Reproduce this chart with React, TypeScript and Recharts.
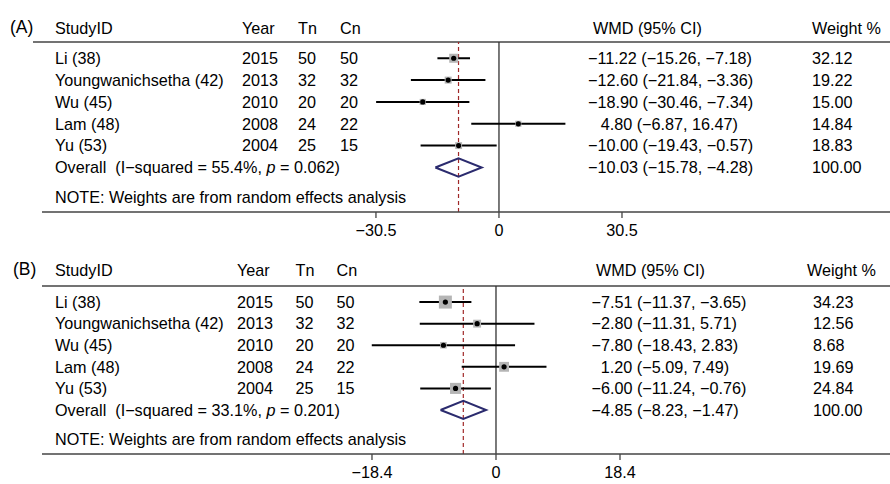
import {
  ComposedChart,
  Scatter,
  ErrorBar,
  XAxis,
  YAxis,
  ReferenceLine,
  Customized,
} from "recharts";

// shared study table
const studies = ["Li (38)", "Youngwanichsetha (42)", "Wu (45)", "Lam (48)", "Yu (53)"];
const years = [2015, 2013, 2010, 2008, 2004];
const tn = [50, 32, 20, 24, 25];
const cn = [50, 32, 20, 22, 15];

// (A)
const wmdA = [-11.22, -12.6, -18.9, 4.8, -10.0];
const lowA = [-15.26, -21.84, -30.46, -6.87, -19.43];
const highA = [-7.18, -3.36, -7.34, 16.47, -0.57];
const weightA = [32.12, 19.22, 15.0, 14.84, 18.83];
const overallA = [-10.03, -15.78, -4.28]; // estimate, lower, upper
const hetA = ["55.4%", "0.062"];
const ticksA = [-30.5, 0, 30.5];

// (B)
const wmdB = [-7.51, -2.8, -7.8, 1.2, -6.0];
const lowB = [-11.37, -11.31, -18.43, -5.09, -11.24];
const highB = [-3.65, 5.71, 2.83, 7.49, -0.76];
const weightB = [34.23, 12.56, 8.68, 19.69, 24.84];
const overallB = [-4.85, -8.23, -1.47];
const hetB = ["33.1%", "0.201"];
const ticksB = [-18.4, 0, 18.4];

const OVERALL_ROW = 6;
const NOTE_ROW = 7.36;
const Y_DOMAIN: [number, number] = [0.255, 8.04];
const FONT = 16.2;
const RULE = "#444";

const minus = (v: number, d: number) =>
  (v < 0 ? "\u2212" : "") + Math.abs(v).toFixed(d);
const ci = (e: number, l: number, h: number) =>
  `${minus(e, 2)} (${minus(l, 2)}, ${minus(h, 2)})`;

type Cols = {
  year: number;
  tn: number;
  cn: number;
  wmd: number;
  wmdHead: number;
  weight: number;
  weightHead: number;
  posIndent: number;
};

type PanelProps = {
  tag: string;
  wmd: number[];
  low: number[];
  high: number[];
  weight: number[];
  overall: number[];
  het: string[];
  ticks: number[];
  xDomain: [number, number];
  cols: Cols;
  boxScale: number;
  headY: number;
  tagY: number;
  tagX: number;
  ruleStart: number;
  height: number;
};

function Panel(p: PanelProps) {
  const points = p.wmd.map((e, i) => ({
    x: e,
    y: i + 1,
    err: [e - p.low[i], p.high[i] - e],
    w: p.weight[i],
  }));
  const [oe, ol, oh] = p.overall;
  const h = 0.42;
  const diamond = [
    { x: ol, y: OVERALL_ROW },
    { x: oe, y: OVERALL_ROW - h },
    { x: oh, y: OVERALL_ROW },
    { x: oe, y: OVERALL_ROW + h },
    { x: ol, y: OVERALL_ROW },
  ];
  const c = p.cols;

  // one y tick draws the whole text row (left table + right columns)
  const renderRow = (props: any) => {
    const v = props.payload.value;
    const y = props.y;
    const t = { fontSize: FONT, fill: "#000", dy: "0.36em" } as const;
    if (v === NOTE_ROW) {
      return (
        <text x={55} y={y} {...t}>
          NOTE: Weights are from random effects analysis
        </text>
      );
    }
    if (v === OVERALL_ROW) {
      return (
        <g>
          <text x={55} y={y} {...t} xmlSpace="preserve">
            {`Overall  (I\u2212squared = ${p.het[0]}, `}
            <tspan fontStyle="italic">p</tspan>
            {` = ${p.het[1]})`}
          </text>
          <text x={c.wmd + (oe >= 0 ? c.posIndent : 0)} y={y} {...t}>
            {ci(oe, ol, oh)}
          </text>
          <text x={c.weight} y={y} {...t}>
            100.00
          </text>
        </g>
      );
    }
    const i = Math.round(v) - 1;
    const e = p.wmd[i];
    return (
      <g>
        <text x={55} y={y} {...t}>{studies[i]}</text>
        <text x={c.year} y={y} {...t}>{years[i]}</text>
        <text x={c.tn} y={y} {...t}>{tn[i]}</text>
        <text x={c.cn} y={y} {...t}>{cn[i]}</text>
        <text x={c.wmd + (e >= 0 ? c.posIndent : 0)} y={y} {...t}>
          {ci(e, p.low[i], p.high[i])}
        </text>
        <text x={c.weight} y={y} {...t}>{p.weight[i].toFixed(2)}</text>
      </g>
    );
  };

  const Header = () => {
    const t = { fontSize: FONT, fill: "#000", dy: "0.36em" } as const;
    return (
      <g>
        <text x={p.tagX} y={p.tagY} fontSize={17.5} fill="#000" dy="0.36em">
          {p.tag}
        </text>
        <text x={55} y={p.headY} {...t}>StudyID</text>
        <text x={c.year} y={p.headY} {...t}>Year</text>
        <text x={c.tn} y={p.headY} {...t}>Tn</text>
        <text x={c.cn} y={p.headY} {...t}>Cn</text>
        <text x={c.wmdHead} y={p.headY} {...t}>WMD (95% CI)</text>
        <text x={c.weightHead} y={p.headY} {...t}>Weight %</text>
      </g>
    );
  };

  const pxPerUnit = 848 / (p.xDomain[1] - p.xDomain[0]);
  const ruleFrom = p.xDomain[0] - (42 - p.ruleStart) / pxPerUnit;

  return (
    <ComposedChart
      width={890}
      height={p.height}
      margin={{ top: 42, right: 0, bottom: 0, left: 41 }}
    >
      <XAxis
        type="number"
        dataKey="x"
        domain={p.xDomain}
        allowDataOverflow
        ticks={p.ticks}
        interval={0}
        height={30}
        tickSize={6}
        tickMargin={6}
        axisLine={{ stroke: RULE, strokeWidth: 1.5 }}
        tickLine={{ stroke: RULE, strokeWidth: 1.3 }}
        tick={{ fontSize: FONT, fill: "#000" }}
        tickFormatter={(v: number) => (v < 0 ? "\u2212" + Math.abs(v) : String(v))}
      />
      <YAxis
        type="number"
        dataKey="y"
        domain={Y_DOMAIN}
        allowDataOverflow
        reversed
        width={1}
        ticks={[1, 2, 3, 4, 5, OVERALL_ROW, NOTE_ROW]}
        interval={0}
        axisLine={false}
        tickLine={false}
        tick={renderRow}
      />
      <ReferenceLine
        segment={[
          { x: ruleFrom, y: Y_DOMAIN[0] },
          { x: p.xDomain[1], y: Y_DOMAIN[0] },
        ]}
        ifOverflow="visible"
        stroke={RULE}
        strokeWidth={1.5}
      />
      <ReferenceLine x={0} stroke="#333" strokeWidth={1.3} />
      <ReferenceLine x={oe} stroke="#a02828" strokeWidth={1.2} strokeDasharray="4 3" />
      <Scatter
        data={points}
        isAnimationActive={false}
        shape={(s: any) => {
          const side = p.boxScale * Math.sqrt(s.payload.w);
          return (
            <rect
              x={s.cx - side / 2}
              y={s.cy - side / 2}
              width={side}
              height={side}
              fill="#b5b5b5"
            />
          );
        }}
      />
      <Scatter
        data={points}
        isAnimationActive={false}
        shape={(s: any) => <circle cx={s.cx} cy={s.cy} r={2.6} fill="#000" />}
      >
        <ErrorBar dataKey="err" direction="x" width={0} stroke="#000" strokeWidth={2} />
      </Scatter>
      <Scatter
        data={diamond}
        isAnimationActive={false}
        line={{ stroke: "#2b2b6e", strokeWidth: 2 }}
        lineType="joint"
        shape={() => <g />}
      />
      <Customized component={Header} />
    </ComposedChart>
  );
}

export default function App() {
  return (
    <div
      style={{
        position: "absolute",
        left: 0,
        top: 0,
        width: 890,
        height: 484,
        background: "#fff",
        fontFamily: "'Liberation Sans', Arial, sans-serif",
      }}
    >
      <div style={{ position: "absolute", left: 0, top: 0 }}>
        <Panel
          tag="(A)"
          wmd={wmdA}
          low={lowA}
          high={highA}
          weight={weightA}
          overall={overallA}
          het={hetA}
          ticks={ticksA}
          xDomain={[-113.3, 96.95]}
          cols={{
            year: 242,
            tn: 298,
            cn: 340,
            wmd: 588,
            wmdHead: 593,
            weight: 812,
            weightHead: 812,
            posIndent: 12.7,
          }}
          boxScale={1.59}
          headY={28.3}
          tagX={10}
          tagY={26.5}
          ruleStart={33}
          height={242}
        />
      </div>
      <div style={{ position: "absolute", left: 0, top: 244 }}>
        <Panel
          tag="(B)"
          wmd={wmdB}
          low={lowB}
          high={highB}
          weight={weightB}
          overall={overallB}
          het={hetB}
          ticks={ticksB}
          xDomain={[-67.36, 58.46]}
          cols={{
            year: 237,
            tn: 295.5,
            cn: 336.5,
            wmd: 591.5,
            wmdHead: 596,
            weight: 813,
            weightHead: 807,
            posIndent: 9.3,
          }}
          boxScale={2.22}
          headY={26.5}
          tagX={13}
          tagY={24.3}
          ruleStart={42}
          height={240}
        />
      </div>
    </div>
  );
}
